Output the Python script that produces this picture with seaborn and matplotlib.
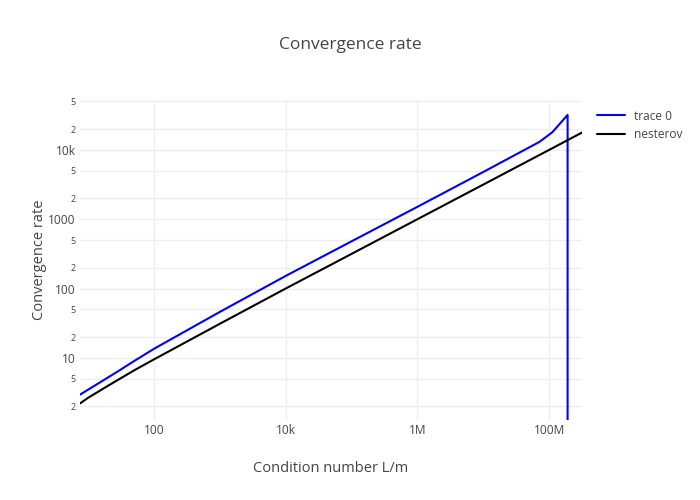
import numpy as np
import pandas as pd
import matplotlib
matplotlib.use("Agg")
import matplotlib.pyplot as plt
import seaborn as sns

# values (log-log chart)
blue_x = [7.55, 15, 30, 50, 100, 1e3, 1e4, 1e5, 1e6, 1e7, 7.13e7, 1.12e8, 1.91e8, 1.91e8]
blue_y = [2.95, 4.4, 6.6, 9.0, 13.5, 46, 152, 480, 1510, 4800, 13060, 18000, 32000, 0]

black_x = [7.55, 10, 20, 50, 100, 1e3, 1e4, 1e5, 1e6, 1e7, 1e8, 3.16e8]
black_y = [2.2, 2.65, 3.95, 6.6, 9.5, 31, 100, 316, 1000, 3160, 10000, 17800]

series_names = ["trace 0", "nesterov"]
series_colors = ["#0000ff", "#000000"]

x_ticks = [100, 1e4, 1e6, 1e8]
x_tick_labels = ["100", "10k", "1M", "100M"]
y_ticks = [2, 5, 10, 20, 50, 100, 200, 500, 1000, 2000, 5000, 10000, 20000, 50000]
y_tick_labels = ["2", "5", "10", "2", "5", "100", "2", "5", "1000", "2", "5", "10k", "2", "5"]

df = pd.concat([
    pd.DataFrame({"x": blue_x, "y": blue_y, "series": series_names[0]}),
    pd.DataFrame({"x": black_x, "y": black_y, "series": series_names[1]}),
], ignore_index=True)

sns.set_theme(style="white")
plt.rcParams["font.family"] = ["Open Sans", "DejaVu Sans"]
txt = "#444444"

fig = plt.figure(figsize=(7, 5), dpi=100)
ax = fig.add_axes([80 / 700, 80 / 500, 502 / 700, 320 / 500])

sns.lineplot(data=df, x="x", y="y", hue="series", hue_order=series_names,
             palette=dict(zip(series_names, series_colors)),
             estimator=None, sort=False, linewidth=1.5, ax=ax)

ax.set_xscale("log")
ax.set_yscale("log")
ax.set_xlim(7.55, 3.16e8)
ax.set_ylim(1.27, 5.25e4)

ax.set_xticks(x_ticks)
ax.set_xticklabels(x_tick_labels)
ax.set_yticks(y_ticks)
ax.set_yticklabels(y_tick_labels)
ax.xaxis.set_minor_locator(matplotlib.ticker.NullLocator())
ax.yaxis.set_minor_locator(matplotlib.ticker.NullLocator())
ax.tick_params(axis="both", length=0, colors=txt, labelsize=8.6)
ax.tick_params(axis="x", pad=3)
ax.tick_params(axis="y", pad=3)
for lab in ax.get_yticklabels():
    if lab.get_text() in ("2", "5"):
        lab.set_fontsize(6.5)

ax.grid(True, color="#eeeeee", linewidth=1)
ax.set_axisbelow(True)
for s in ax.spines.values():
    s.set_visible(False)

ax.set_xlabel("Condition number L/m", fontsize=10.5, color=txt, labelpad=17)
ax.set_ylabel("Convergence rate", fontsize=10.5, color=txt, labelpad=1)
fig.text(0.5, 1 - 45 / 500, "Convergence rate", ha="center", va="center",
         fontsize=12.5, color=txt)

ax.legend(loc="upper left", bbox_to_anchor=(1.02, 0.985), frameon=False,
          fontsize=8.6, labelcolor=txt, handlelength=2.4, handletextpad=0.7,
          borderaxespad=0, labelspacing=0.45)

fig.savefig("out.png", dpi=100)
